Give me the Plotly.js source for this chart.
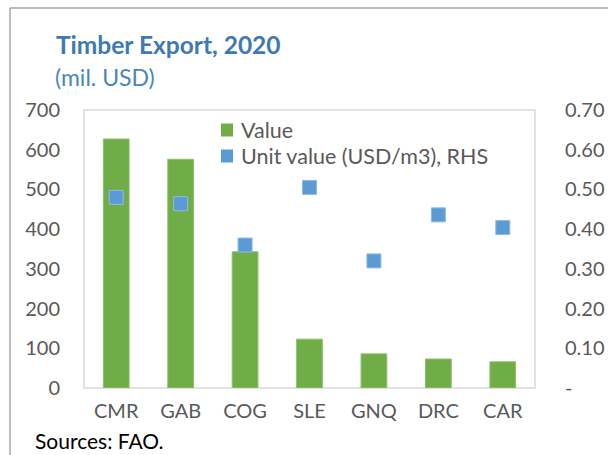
<!DOCTYPE html>
<html>
<head>
<meta charset="utf-8">
<script src="https://cdn.plot.ly/plotly-3.0.1.min.js"></script>
<style>
  html, body { margin: 0; padding: 0; background: #ffffff; }
  #chart { width: 608px; height: 455px; }
</style>
</head>
<body>
<div id="chart"></div>
<script>
// Timber export by country, 2020
const countries = ['CMR', 'GAB', 'COG', 'SLE', 'GNQ', 'DRC', 'CAR'];
const exportValue = [627, 576, 343, 123, 86, 73, 66];             // mil. USD (left axis)
const unitValue = [0.48, 0.464, 0.36, 0.505, 0.32, 0.436, 0.404]; // USD/m3 (right axis)

const leftTicks = [0, 100, 200, 300, 400, 500, 600, 700];
const rightTicks = [0, 0.1, 0.2, 0.3, 0.4, 0.5, 0.6, 0.7];
const rightTickText = ['-', '0.10', '0.20', '0.30', '0.40', '0.50', '0.60', '0.70'];

const seriesNames = ['Value', 'Unit value (USD/m3), RHS'];
const seriesColors = ['#70AD47', '#5B9BD5'];

const FONT = 'Lato, "Open Sans", sans-serif';
const GREY = '#595959';

// plot area in pixels, used to place paper-referenced decorations
const W = 608, H = 455;
const M = { l: 84, r: 73, t: 110, b: 67 };
const PW = W - M.l - M.r, PH = H - M.t - M.b;
const px = x => (x - M.l) / PW;
const py = y => (H - M.b - y) / PH;

const traces = [
  {
    type: 'bar',
    name: seriesNames[0],
    x: countries,
    y: exportValue,
    width: 0.4,
    marker: { color: seriesColors[0], line: { color: '#8cc26a', width: 1 } },
    yaxis: 'y'
  },
  {
    type: 'scatter',
    mode: 'markers',
    name: seriesNames[1],
    x: countries,
    y: unitValue,
    marker: { symbol: 'square', size: 14, color: seriesColors[1], line: { color: '#8dbbe6', width: 1 } },
    yaxis: 'y2'
  }
];

// compact legend: square swatch + label, two rows
const legendShapes = [];
const legendNotes = [];
seriesNames.forEach((name, i) => {
  const cy = 130 + i * 26;
  legendShapes.push({
    type: 'rect', xref: 'paper', yref: 'paper',
    x0: px(221), x1: px(233), y0: py(cy + 6.5), y1: py(cy - 6.5),
    fillcolor: seriesColors[i], line: { width: 0 }
  });
  legendNotes.push({
    text: name, xref: 'paper', yref: 'paper', x: px(239), y: py(cy),
    xanchor: 'left', yanchor: 'middle', showarrow: false,
    font: { family: FONT, size: 21.5, color: GREY }
  });
});

const layout = {
  width: W,
  height: H,
  margin: M,
  paper_bgcolor: '#ffffff',
  plot_bgcolor: '#ffffff',
  showlegend: false,
  font: { family: FONT, size: 20, color: GREY },
  xaxis: {
    type: 'category',
    range: [-0.5, 6.5],
    showline: false,
    showgrid: false,
    zeroline: false,
    ticks: 'outside',
    ticklen: 5,
    tickcolor: 'rgba(0,0,0,0)',
    tickfont: { family: FONT, size: 20, color: GREY }
  },
  yaxis: {
    range: [0, 700],
    tickvals: leftTicks,
    ticktext: leftTicks.map(String),
    showgrid: false,
    zeroline: false,
    showline: false,
    ticks: 'outside',
    ticklen: 19,
    tickcolor: 'rgba(0,0,0,0)',
    tickfont: { family: FONT, size: 20, color: GREY }
  },
  yaxis2: {
    overlaying: 'y',
    side: 'right',
    range: [0, 0.7],
    tickvals: rightTicks,
    ticktext: rightTickText,
    showgrid: false,
    zeroline: false,
    showline: false,
    ticks: 'outside',
    ticklen: 25,
    tickcolor: 'rgba(0,0,0,0)',
    tickfont: { family: FONT, size: 20, color: GREY }
  },
  shapes: [
    // plot-area frame
    { type: 'rect', xref: 'paper', yref: 'paper', x0: 0, x1: 1, y0: 0, y1: 1,
      line: { color: '#d9d9d9', width: 1.5 }, layer: 'below' },
    // outer frame: top and left edges
    { type: 'line', xref: 'paper', yref: 'paper', x0: px(10), x1: px(608), y0: py(8), y1: py(8),
      line: { color: '#a6a6a6', width: 1.5 } },
    { type: 'line', xref: 'paper', yref: 'paper', x0: px(10), x1: px(10), y0: py(8), y1: py(455),
      line: { color: '#a6a6a6', width: 1.5 } }
  ].concat(legendShapes),
  annotations: [
    { text: '<b>Timber Export, 2020</b>', xref: 'paper', yref: 'paper',
      x: px(54), y: py(45), xanchor: 'left', yanchor: 'middle', showarrow: false,
      font: { family: FONT, size: 24.5, color: '#3d7ab3' } },
    { text: '(mil. USD)', xref: 'paper', yref: 'paper',
      x: px(53), y: py(77), xanchor: 'left', yanchor: 'middle', showarrow: false,
      font: { family: FONT, size: 23, color: '#4a86c0' } },
    { text: 'Sources: FAO.', xref: 'paper', yref: 'paper',
      x: px(33), y: py(440), xanchor: 'left', yanchor: 'middle', showarrow: false,
      font: { family: FONT, size: 21, color: '#000000' } }
  ].concat(legendNotes)
};

Plotly.newPlot('chart', traces, layout, { displayModeBar: false, staticPlot: true });
</script>
</body>
</html>
